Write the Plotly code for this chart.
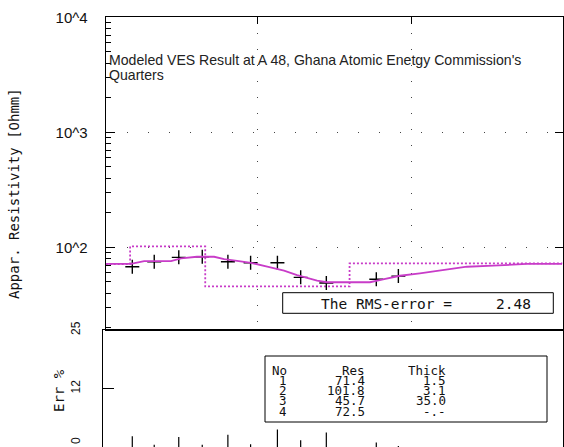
import plotly.graph_objects as go

W, H = 564, 447

# ---- field data (AB/2 in m, apparent resistivity in Ohm.m, fit error in %) ----
ab2 = [1.55, 2.15, 3.1, 4.4, 6.45, 9.05, 13.5, 19.1, 28.0, 59.0, 82.0]
rho_app = [67.8, 75.0, 81.8, 82.8, 75.0, 73.4, 73.4, 54.8, 49.0, 52.7, 56.2]
err_pct = [1.4, -0.5, 1.2, -0.5, 1.7, -0.4, 2.9, 0.5, 2.2, 0.0, -0.8]

# ---- computed response of the layered model ----
ab2_model = [1.05, 1.52, 1.85, 2.76, 3.21, 4.06, 5.25, 6.10, 7.40, 9.10, 11.6, 14.9,
             18.1, 24.4, 28.2, 53.7, 65.2, 83.9, 113, 146, 185, 228, 337, 558, 942]
rho_model = [71.7, 71.7, 76.0, 76.0, 80.2, 82.8, 82.8, 79.0, 76.4, 73.4, 67.8, 62.6,
             57.4, 51.3, 49.7, 49.7, 52.7, 56.6, 59.4, 62.2, 64.7, 67.8, 69.2, 71.7, 71.7]

# ---- layered earth model ----
layer_no = [1, 2, 3, 4]
layer_res = [71.4, 101.8, 45.7, 72.5]
layer_thick = [1.5, 3.1, 35.0, None]
rms_error = 2.48

y_tick_vals = [100, 1000, 10000]
y_tick_text = ["10^2", "10^3", "10^4"]
err_tick_vals = [0, 12, 25]
err_tick_text = ["0", "12", "25"]

# ---- axis ranges (log10 for the log axes) ----
X_LOG = [0.018, 2.977]
X2_LOG = [-0.0026, 2.977]
Y_LOG = [1.281, 4.003]
ERR_RANGE = [-1, 25]

MAGENTA = "#c83cc8"
INK = "#111111"
MONO = "DejaVu Sans Mono"
SANS = "Liberation Sans, Arial, sans-serif"


def px(xp):
    return xp / W


def py(yp):
    return 1 - yp / H


# step outline of the model (resistivity vs depth)
step_x, step_y = [10 ** X_LOG[0]], [layer_res[0]]
depth = 0.0
for i, t in enumerate(layer_thick):
    if t is None:
        break
    depth += t
    step_x += [depth, depth]
    step_y += [layer_res[i], layer_res[i + 1]]
step_x.append(10 ** X_LOG[1])
step_y.append(layer_res[-1])

# error stems rising from the bottom of the error panel
stem_x, stem_y = [], []
for xv, ev in zip(ab2, err_pct):
    stem_x += [xv, xv, None]
    stem_y += [ERR_RANGE[0], ev, None]

fig = go.Figure()

fig.add_trace(go.Scatter(
    x=step_x, y=step_y, mode="lines", xaxis="x", yaxis="y",
    line=dict(color=MAGENTA, width=1.8, dash="2px,2px"), hoverinfo="skip"))

fig.add_trace(go.Scatter(
    x=ab2, y=rho_app, mode="markers", xaxis="x", yaxis="y",
    marker=dict(symbol="cross-thin", size=10, line=dict(color="black", width=1.4))))

fig.add_trace(go.Scatter(
    x=ab2_model, y=rho_model, mode="lines", xaxis="x", yaxis="y3",
    line=dict(color=MAGENTA, width=1.8)))

fig.add_trace(go.Scatter(
    x=stem_x, y=stem_y, mode="lines", xaxis="x2", yaxis="y2",
    line=dict(color="black", width=1.2)))

minor_vals = [m * 10 ** e for e in range(1, 4) for m in range(2, 10)]

fig.update_layout(
    width=W, height=H,
    margin=dict(l=0, r=0, t=0, b=0, autoexpand=False),
    paper_bgcolor="white", plot_bgcolor="white",
    showlegend=False,
    xaxis=dict(
        type="log", range=X_LOG, domain=[px(105.7), px(562.5)], anchor="y",
        side="top", showticklabels=False, ticks="inside", ticklen=7,
        tickcolor="black", dtick=1, automargin=False,
        showline=True, linecolor="black", linewidth=1, mirror=True,
        showgrid=True, gridcolor="#444444", gridwidth=1, griddash="1px,15px",
        zeroline=False),
    yaxis=dict(
        type="log", range=Y_LOG, domain=[py(330), py(17)], anchor="x",
        tickmode="array", tickvals=y_tick_vals, ticktext=y_tick_text,
        ticks="inside", ticklen=9, tickcolor="black", ticklabelstandoff=14,
        tickfont=dict(family=SANS, size=15, color=INK), automargin=False,
        minor=dict(tickmode="array", tickvals=minor_vals, ticks="inside",
                   ticklen=5, tickcolor="black", showgrid=False),
        showline=True, linecolor="black", linewidth=1, mirror=True,
        showgrid=True, gridcolor="#444444", gridwidth=1, griddash="1px,20px",
        zeroline=False),
    yaxis3=dict(
        type="log", range=Y_LOG, overlaying="y", side="right", anchor="x",
        tickmode="array", tickvals=y_tick_vals[:2], ticks="inside", ticklen=8,
        tickcolor="black", showticklabels=False, showgrid=False,
        showline=False, zeroline=False, automargin=False),
    xaxis2=dict(
        type="log", range=X2_LOG, domain=[px(102.5), px(562.5)], anchor="y2",
        side="top", showticklabels=False, ticks="", showgrid=False,
        showline=True, linecolor="black", linewidth=1, mirror=False,
        zeroline=False, automargin=False),
    yaxis2=dict(
        range=ERR_RANGE, domain=[0, py(330)], anchor="x2",
        tickmode="array", tickvals=err_tick_vals, ticktext=err_tick_text,
        ticks="", tickangle=-90, ticklabelstandoff=17, automargin=False,
        tickfont=dict(family=SANS, size=12, color=INK),
        minor=dict(tickmode="array", tickvals=[12], ticks="inside",
                   ticklen=11, tickcolor="black", showgrid=False),
        showline=True, linecolor="black", linewidth=1, mirror=True,
        showgrid=False, zeroline=False),
)

annotations = []

# chart title inside the resistivity panel
title_lines = ["Modeled VES Result at A 48, Ghana Atomic Enetgy Commission's", "Quarters"]
for i, line in enumerate(title_lines):
    annotations.append(dict(
        text=line, xref="paper", yref="paper", x=px(106.5), y=py(59.5 + 15.7 * i),
        xanchor="left", yanchor="middle", showarrow=False,
        font=dict(family=SANS, size=14.1, color="#222222")))

# axis titles
annotations.append(dict(
    text="Appar. Resistivity [Ohmm]", xref="paper", yref="paper",
    x=px(14), y=py(194), textangle=-90, showarrow=False,
    xanchor="center", yanchor="middle",
    font=dict(family=MONO, size=14, color=INK)))
annotations.append(dict(
    text="Err %", xref="paper", yref="paper",
    x=px(59), y=py(391), textangle=-90, showarrow=False,
    xanchor="center", yanchor="middle",
    font=dict(family=MONO, size=14, color=INK)))

# RMS error box
shapes = [dict(type="rect", xref="paper", yref="paper",
               x0=px(282.7), x1=px(553.3), y0=py(313.3), y1=py(292.7),
               line=dict(color="black", width=1), fillcolor="white", layer="above")]
annotations.append(dict(
    text="The RMS-error =", xref="paper", yref="paper", x=px(319), y=py(303.5),
    xanchor="left", yanchor="middle", showarrow=False,
    font=dict(family=MONO, size=14.5, color=INK)))
annotations.append(dict(
    text=f"{rms_error:.2f}", xref="paper", yref="paper", x=px(533), y=py(303.5),
    xanchor="right", yanchor="middle", showarrow=False,
    font=dict(family=MONO, size=14.5, color=INK)))

# layer table
shapes.append(dict(type="rect", xref="paper", yref="paper",
                   x0=px(265), x1=px(547), y0=py(422), y1=py(356),
                   line=dict(color="black", width=1), fillcolor="white", layer="above"))
rows = [("No", "Res", "Thick")]
for n, r, t in zip(layer_no, layer_res, layer_thick):
    rows.append((str(n), f"{r:.1f}", "-.-" if t is None else f"{t:.1f}"))
col_right = [287.5, 366, 446.5]
for k, row in enumerate(rows):
    yc = 369.5 + 10.3 * k
    for c, cell in enumerate(row):
        annotations.append(dict(
            text=cell, xref="paper", yref="paper", x=px(col_right[c]), y=py(yc),
            xanchor="right", yanchor="middle", showarrow=False,
            height=10, borderpad=0,
            font=dict(family=MONO, size=12.5, color=INK)))

fig.update_layout(annotations=annotations, shapes=shapes)

fig.write_html("out.html")
